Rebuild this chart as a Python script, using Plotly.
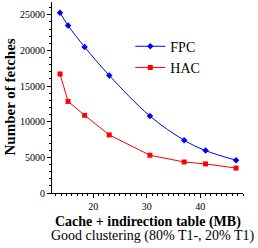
import plotly.graph_objects as go

sizes = [13.8, 15.3, 18.4, 23.0, 30.6, 37.0, 41.0, 46.7]
fpc = [25300, 23500, 20500, 16500, 10800, 7400, 5950, 4600]
hac = [16700, 12850, 10900, 8150, 5300, 4350, 4080, 3500]

FONT = "'Liberation Serif', 'DejaVu Serif', 'Times New Roman', serif"

fig = go.Figure()
fig.add_trace(go.Scatter(x=sizes, y=fpc, name="FPC", mode="lines+markers",
                         line=dict(color="#0000ff", width=1, shape="spline"),
                         marker=dict(symbol="diamond", size=5, color="#0000ff")))
fig.add_trace(go.Scatter(x=sizes, y=hac, name="HAC", mode="lines+markers",
                         line=dict(color="#ff0000", width=1),
                         marker=dict(symbol="square", size=5, color="#ff0000")))

fig.update_layout(
    width=258, height=248,
    margin=dict(l=52, r=15, t=2, b=55),
    paper_bgcolor="white", plot_bgcolor="white",
    font=dict(family=FONT, color="black", size=10),
    showlegend=True,
    legend=dict(x=0.41, y=0.85, xanchor="left", yanchor="top",
                font=dict(family=FONT, size=14), bgcolor="rgba(0,0,0,0)",
                itemwidth=30, tracegroupgap=0),
    xaxis=dict(range=[12.3, 48], showgrid=False, zeroline=False,
               showline=True, linecolor="black", linewidth=1,
               ticks="outside", ticklen=4, tickcolor="black",
               tick0=0, dtick=10, tickformat="d", tickfont=dict(family=FONT, size=10),
               minor=dict(ticks="outside", ticklen=2, dtick=1, tickcolor="black")),
    yaxis=dict(range=[0, 26800], showgrid=False, zeroline=False,
               showline=True, linecolor="black", linewidth=1,
               ticks="outside", ticklen=4, tickcolor="black",
               tick0=0, dtick=5000, tickformat="d", tickfont=dict(family=FONT, size=10),
               minor=dict(ticks="outside", ticklen=2, dtick=1000, tickcolor="black")),
    annotations=[
        dict(text="<b>Cache + indirection table (MB)</b>", xref="paper", yref="paper",
             x=0.5, y=-0.1, xanchor="center", yanchor="top", showarrow=False,
             font=dict(family=FONT, size=14)),
        dict(text="Good clustering (80% T1-, 20% T1)", xref="paper", yref="paper",
             x=0.53, y=-0.172, xanchor="center", yanchor="top", showarrow=False,
             font=dict(family=FONT, size=14)),
        dict(text="<b>Number of fetches</b>", xref="paper", yref="paper",
             x=-0.225, y=0.5, xanchor="center", yanchor="middle", showarrow=False,
             textangle=-90, font=dict(family=FONT, size=15)),
    ],
)

fig.write_html("out.html")
